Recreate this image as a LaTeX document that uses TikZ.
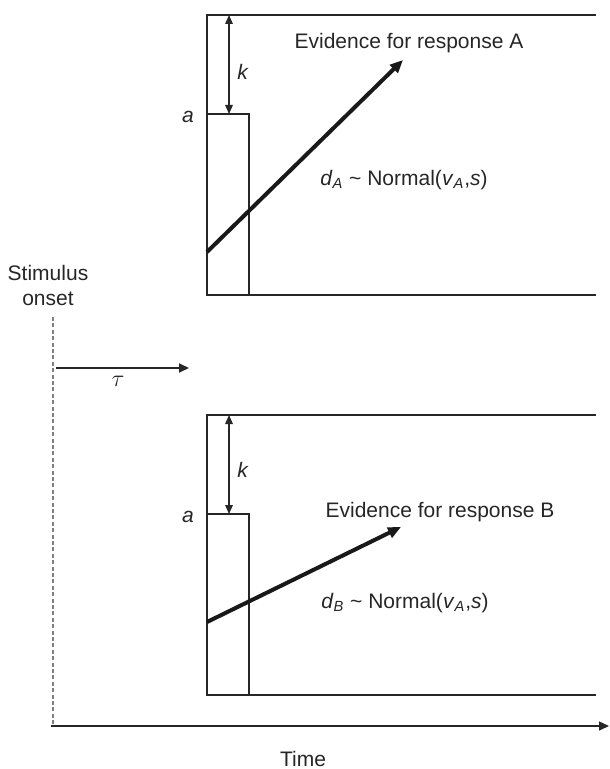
\documentclass[tikz,border=0pt]{standalone}
\usepackage{fontspec}
\setmainfont{Liberation Sans}
\usetikzlibrary{positioning,arrows.meta,calc}

\begin{document}
\begin{tikzpicture}[
	x=0.5pt, y=-0.5pt,
	font=\fontsize{10.5}{12.5}\selectfont,
	frame/.style={line width=1.4pt, draw=black!85},
	start/.style={line width=0.6pt, draw=black!85},
	drift/.style={line width=2pt, draw=black!90, -{Triangle[length=6.5pt,width=5.5pt]}},
	gap/.style={line width=0.6pt, draw=black!85, {Triangle[length=4.5pt,width=3.8pt]}-{Triangle[length=4.5pt,width=3.8pt]}},
	axis/.style={line width=0.7pt, draw=black!85, -{Triangle[length=5pt,width=4.5pt]}},
	onset/.style={line width=0.6pt, draw=black!50, dash pattern=on 2pt off 1.2pt},
	lbl/.style={inner sep=1pt, text=black!85},
]
\useasboundingbox (0,0) rectangle (609,769);

% --- Obere Akkumulator-Box (Antwort A) ---
\coordinate (aTopL) at (207,15);
\coordinate (aTopR) at (596,15);
\coordinate (aBotL) at (207,295);
\coordinate (aBotR) at (596,295);
\coordinate (aStartTop) at (249,114);
\coordinate (aStartBot) at (249,295);
\coordinate (aA) at (207,114);
\coordinate (aDriftS) at (207,252);
\coordinate (aDriftE) at (403,60);
\coordinate (aK) at (229,15);
\coordinate (aKb) at (229,114);

\draw[frame] (aTopR) -- (aTopL) -- (aBotL) -- (aBotR);
\draw[start] (aA) -- (aStartTop) -- (aStartBot);
\draw[gap] (aK) -- (aKb);
\draw[drift] (aDriftS) -- (aDriftE);

\node[lbl] (aKlbl) at (243,72) {\textit{k}};
\node[lbl] (aAlbl) at (188,117) {\textit{a}};
\node[lbl] (aEvid) at (409,43) {Evidence for response A};
\node[lbl] (aDist) at (404,180) {\textit{d}\textsubscript{\textit{A}} \textasciitilde\ Normal(\textit{v}\textsubscript{\textit{A}},\textit{s})};

% --- Untere Akkumulator-Box (Antwort B) ---
\coordinate (bTopL) at (207,415);
\coordinate (bTopR) at (596,415);
\coordinate (bBotL) at (207,695);
\coordinate (bBotR) at (596,695);
\coordinate (bStartTop) at (249,514);
\coordinate (bStartBot) at (249,695);
\coordinate (bA) at (207,514);
\coordinate (bDriftS) at (207,622);
\coordinate (bDriftE) at (401,527);
\coordinate (bK) at (229,415);
\coordinate (bKb) at (229,514);

\draw[frame] (bTopR) -- (bTopL) -- (bBotL) -- (bBotR);
\draw[start] (bA) -- (bStartTop) -- (bStartBot);
\draw[gap] (bK) -- (bKb);
\draw[drift] (bDriftS) -- (bDriftE);

\node[lbl] (bKlbl) at (243,470) {\textit{k}};
\node[lbl] (bAlbl) at (188,517) {\textit{a}};
\node[lbl] (bEvid) at (440,512) {Evidence for response B};
\node[lbl] (bDist) at (405,603) {\textit{d}\textsubscript{\textit{B}} \textasciitilde\ Normal(\textit{v}\textsubscript{\textit{A}},\textit{s})};

% --- Reizbeginn, tau und Zeitachse ---
\node[lbl, align=center] (stim) at (48,285) {Stimulus\\onset};
\coordinate (onTop) at (53,317);
\coordinate (onBot) at (53,726);
\draw[onset] (onTop) -- (onBot);

\coordinate (tauS) at (56,368);
\coordinate (tauE) at (189,368);
\draw[axis, line width=0.9pt] (tauS) -- (tauE);
\node[lbl] (tau) at (118,381) {\large$\tau$};

\coordinate (timeS) at (51,726);
\coordinate (timeE) at (609,726);
\draw[axis] (timeS) -- (timeE);
\node[lbl] (time) at (303,759) {Time};

\end{tikzpicture}
\end{document}
